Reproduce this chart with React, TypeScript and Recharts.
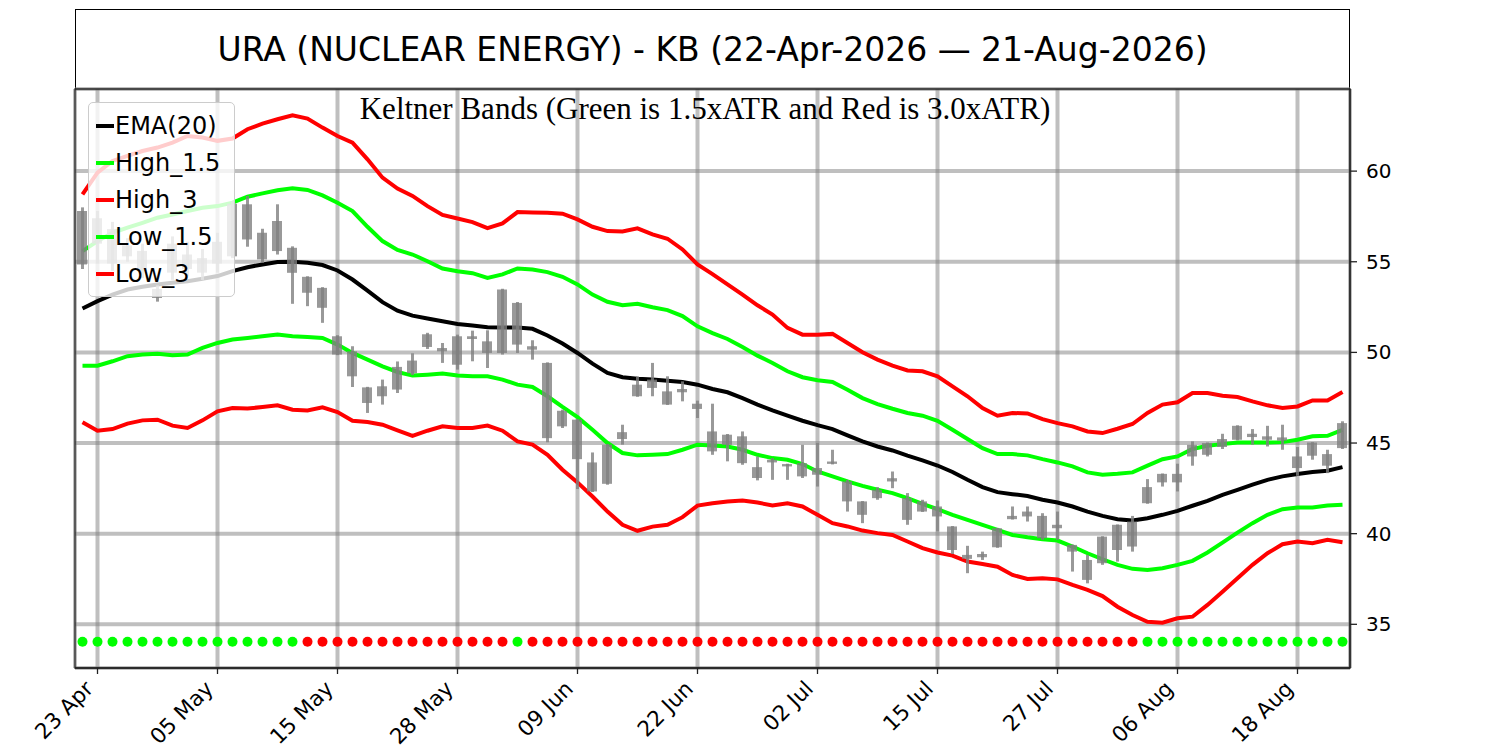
import {
  ComposedChart,
  Line,
  Bar,
  Scatter,
  XAxis,
  YAxis,
  CartesianGrid,
  Legend,
  ReferenceArea,
} from 'recharts';

// trading days, 22 Apr 2026 .. 21 Aug 2026
const DATES = [
  '22 Apr', '23 Apr', '24 Apr', '27 Apr', '28 Apr', '29 Apr', '30 Apr',
  '01 May', '04 May', '05 May', '06 May', '07 May', '08 May', '11 May', '12 May', '13 May', '14 May',
  '15 May', '18 May', '19 May', '20 May', '21 May', '22 May', '26 May', '27 May', '28 May', '29 May',
  '01 Jun', '02 Jun', '03 Jun', '04 Jun', '05 Jun', '08 Jun', '09 Jun', '10 Jun', '11 Jun', '12 Jun',
  '15 Jun', '16 Jun', '17 Jun', '18 Jun', '22 Jun', '23 Jun', '24 Jun', '25 Jun', '26 Jun', '29 Jun', '30 Jun',
  '01 Jul', '02 Jul', '06 Jul', '07 Jul', '08 Jul', '09 Jul', '10 Jul', '13 Jul', '14 Jul', '15 Jul',
  '16 Jul', '17 Jul', '20 Jul', '21 Jul', '22 Jul', '23 Jul', '24 Jul', '27 Jul', '28 Jul', '29 Jul', '30 Jul', '31 Jul',
  '03 Aug', '04 Aug', '05 Aug', '06 Aug', '07 Aug', '10 Aug', '11 Aug', '12 Aug', '13 Aug', '14 Aug',
  '17 Aug', '18 Aug', '19 Aug', '20 Aug', '21 Aug',
];

const OPEN = [
  57.8, 56.0, 56.8, 55.3, 55.6, 53.5, 54.4, 55.4, 54.4, 54.9,
  55.3, 58.17, 56.6, 55.59, 55.77, 54.17, 53.56, 50.89, 50.06, 48.07,
  47.58, 47.95, 48.85, 50.3, 50.24, 49.32, 50.89, 50.61, 49.97, 52.73,
  50.34, 49.42, 45.92, 46.29, 43.93, 42.75, 45.22, 47.58, 48.5, 47.85,
  47.98, 47.17, 45.64, 44.9, 45.37, 43.67, 43.93, 43.84, 43.16, 43.62,
  43.98, 42.88, 41.78, 41.96, 42.88, 41.96, 41.22, 41.5, 40.4, 38.83,
  38.7, 39.25, 40.98, 40.95, 40.98, 40.49, 39.38, 38.55, 38.37, 39.1,
  39.29, 41.68, 42.83, 43.3, 44.26, 44.35, 44.78, 45.18, 45.51, 45.18,
  45.31, 44.26, 44.3, 44.39, 44.72,
];
const HIGH = [
  58.0, 57.8, 57.2, 56.3, 56.0, 53.7, 56.4, 56.1, 55.7, 56.6,
  58.35, 58.63, 56.82, 58.17, 55.85, 54.2, 53.6, 50.95, 50.34, 48.1,
  48.5, 49.5, 49.95, 51.08, 50.52, 50.98, 51.2, 51.22, 53.51, 52.78,
  50.67, 49.45, 46.84, 46.32, 44.48, 44.95, 46.01, 48.68, 49.42, 48.68,
  48.4, 47.34, 47.17, 45.5, 45.64, 44.26, 44.17, 43.86, 44.9, 45.0,
  44.63, 42.97, 41.8, 42.57, 43.43, 42.24, 41.87, 41.83, 40.42, 39.33,
  39.01, 40.32, 41.5, 41.5, 41.13, 41.22, 39.4, 38.83, 39.86, 40.51,
  40.98, 43.01, 43.32, 43.86, 45.09, 45.03, 45.51, 45.98, 45.77, 45.95,
  46.01, 44.78, 45.05, 44.63, 46.2,
];
const LOW = [
  54.6, 54.9, 54.5, 55.0, 54.1, 52.8, 54.0, 54.2, 54.0, 54.4,
  55.2, 55.83, 54.94, 55.4, 52.68, 52.55, 51.63, 49.85, 48.09, 46.66,
  47.12, 47.76, 48.75, 50.19, 49.42, 49.05, 49.51, 49.14, 49.88, 49.97,
  49.6, 45.04, 45.83, 42.46, 42.3, 42.7, 44.91, 47.55, 47.58, 47.1,
  47.3, 46.38, 44.35, 43.99, 43.8, 42.94, 42.97, 42.97, 43.07, 42.6,
  43.82, 41.22, 40.58, 41.87, 42.51, 40.49, 41.2, 40.12, 38.88, 37.82,
  38.55, 39.22, 40.78, 40.67, 39.66, 39.66, 37.91, 37.26, 38.28, 38.46,
  39.01, 41.65, 42.6, 42.33, 43.75, 44.26, 44.67, 45.15, 44.91, 44.81,
  44.63, 43.19, 44.08, 43.34, 44.67,
];
const CLOSE = [
  54.85, 57.4, 54.9, 55.9, 54.5, 53.0, 56.0, 54.6, 55.2, 56.1,
  58.2, 56.23, 55.13, 57.25, 54.39, 53.29, 52.46, 49.88, 48.68, 47.21,
  48.13, 49.2, 49.55, 51.0, 50.06, 50.89, 50.74, 49.97, 53.47, 50.43,
  50.15, 45.27, 46.78, 44.11, 42.33, 44.91, 45.6, 48.22, 48.04, 47.12,
  47.8, 46.88, 44.54, 45.46, 43.89, 43.07, 44.08, 43.71, 43.89, 43.25,
  43.85, 41.78, 41.04, 42.42, 43.06, 40.76, 41.78, 40.95, 39.1, 38.61,
  38.88, 40.3, 40.8, 41.22, 39.75, 40.3, 39.01, 37.45, 39.84, 40.49,
  40.67, 42.57, 43.3, 42.83, 44.9, 45.0, 45.22, 45.95, 45.33, 45.37,
  45.13, 43.62, 45.03, 43.75, 46.1,
];

const EMA20 = [
  52.42, 52.83, 53.19, 53.47, 53.62, 53.75, 53.84, 53.93, 54.06, 54.21,
  54.48, 54.7, 54.85, 54.98, 55.0, 54.94, 54.82, 54.52, 54.02, 53.41,
  52.77, 52.3, 52.03, 51.87, 51.72, 51.57, 51.48, 51.39, 51.37, 51.37,
  51.3, 50.93, 50.49, 49.97, 49.38, 48.87, 48.63, 48.55, 48.5, 48.44,
  48.37, 48.22, 47.98, 47.8, 47.48, 47.12, 46.8, 46.51, 46.23, 45.99,
  45.77, 45.42, 45.09, 44.81, 44.59, 44.3, 44.04, 43.76, 43.4, 42.97,
  42.57, 42.29, 42.18, 42.08, 41.87, 41.72, 41.5, 41.22, 40.98, 40.8,
  40.73, 40.85, 41.04, 41.26, 41.54, 41.81, 42.14, 42.42, 42.7, 42.97,
  43.16, 43.29, 43.4, 43.47, 43.67,
];
const HIGH_15 = [
  55.59, 56.14, 56.6, 56.88, 57.15, 57.43, 57.61, 57.8, 57.98, 58.07,
  58.26, 58.59, 58.77, 58.94, 59.05, 58.96, 58.66, 58.26, 57.8, 56.93,
  56.14, 55.65, 55.4, 55.03, 54.63, 54.48, 54.37, 54.11, 54.3, 54.63,
  54.57, 54.43, 54.17, 53.75, 53.19, 52.79, 52.6, 52.68, 52.49, 52.33,
  52.0, 51.44, 51.06, 50.74, 50.3, 49.82, 49.42, 48.96, 48.63, 48.46,
  48.37, 47.94, 47.48, 47.15, 46.89, 46.66, 46.51, 46.23, 45.73, 45.22,
  44.72, 44.39, 44.39, 44.32, 44.11, 43.93, 43.71, 43.38, 43.25, 43.3,
  43.38, 43.75, 44.11, 44.26, 44.67, 44.85, 44.94, 45.03, 45.03, 45.03,
  45.05, 45.18, 45.37, 45.4, 45.73,
];
const HIGH_3 = [
  58.72, 59.92, 60.56, 60.84, 61.11, 61.3, 61.57, 61.94, 61.85, 61.67,
  61.8, 62.31, 62.62, 62.86, 63.08, 62.9, 62.4, 61.94, 61.57, 60.65,
  59.64, 59.04, 58.63, 58.07, 57.58, 57.39, 57.19, 56.86, 57.12, 57.74,
  57.72, 57.7, 57.65, 57.34, 56.93, 56.69, 56.67, 56.84, 56.51, 56.27,
  55.68, 54.85, 54.32, 53.75, 53.19, 52.6, 52.09, 51.35, 50.98, 50.97,
  51.02, 50.52, 50.01, 49.6, 49.27, 49.0, 48.96, 48.68, 48.13, 47.58,
  46.93, 46.51, 46.66, 46.63, 46.32, 46.1, 45.92, 45.64, 45.55, 45.79,
  46.05, 46.66, 47.12, 47.25, 47.76, 47.76, 47.61, 47.54, 47.3, 47.08,
  46.93, 47.02, 47.35, 47.35, 47.82,
];
const LOW_15 = [
  49.27, 49.27, 49.51, 49.79, 49.88, 49.92, 49.84, 49.88, 50.25, 50.52,
  50.71, 50.8, 50.89, 50.98, 50.89, 50.85, 50.8, 50.43, 49.97, 49.6,
  49.23, 48.92, 48.72, 48.77, 48.83, 48.72, 48.68, 48.68, 48.5, 48.22,
  48.09, 47.58, 46.99, 46.43, 45.73, 45.0, 44.45, 44.32, 44.35, 44.39,
  44.63, 44.91, 44.87, 44.81, 44.63, 44.35, 44.17, 44.08, 43.84, 43.43,
  43.16, 42.88, 42.64, 42.42, 42.24, 41.96, 41.65, 41.35, 41.04, 40.76,
  40.49, 40.21, 39.93, 39.8, 39.69, 39.62, 39.29, 38.92, 38.59, 38.28,
  38.06, 38.0, 38.09, 38.28, 38.5, 38.96, 39.51, 40.06, 40.58, 41.04,
  41.35, 41.44, 41.44, 41.55, 41.59,
];
const LOW_3 = [
  46.14, 45.68, 45.77, 46.07, 46.25, 46.29, 45.96, 45.83, 46.25, 46.75,
  46.93, 46.9, 46.99, 47.08, 46.84, 46.8, 46.97, 46.71, 46.23, 46.16,
  46.01, 45.7, 45.4, 45.68, 45.92, 45.83, 45.83, 45.96, 45.68, 45.09,
  44.91, 44.35, 43.53, 42.83, 42.05, 41.22, 40.49, 40.16, 40.39, 40.49,
  40.91, 41.55, 41.68, 41.78, 41.83, 41.72, 41.55, 41.68, 41.5, 41.04,
  40.58, 40.4, 40.17, 40.03, 39.93, 39.57, 39.2, 38.96, 38.79, 38.46,
  38.33, 38.18, 37.72, 37.5, 37.54, 37.48, 37.17, 36.9, 36.56, 35.97,
  35.51, 35.14, 35.09, 35.33, 35.42, 36.07, 36.8, 37.54, 38.28, 38.92,
  39.42, 39.57, 39.47, 39.66, 39.53,
];

// squeeze signal per day: g = green dot, r = red dot
const SIGNAL = [
  'g', 'g', 'g', 'g', 'g', 'g', 'g', 'g', 'g', 'g', 'g', 'g', 'g', 'g', 'g',
  'r', 'r', 'r', 'r', 'r', 'r', 'r', 'r', 'r', 'r', 'r', 'r', 'r', 'r',
  'g',
  'r', 'r', 'r', 'r', 'r', 'r', 'r', 'r', 'r', 'r', 'r', 'r', 'r', 'r', 'r', 'r', 'r', 'r', 'r', 'r',
  'r', 'r', 'r', 'r', 'r', 'r', 'r', 'r', 'r', 'r', 'r', 'r', 'r', 'r', 'r', 'r', 'r', 'r', 'r', 'r', 'r',
  'g', 'g', 'g', 'g', 'g', 'g', 'g', 'g', 'g', 'g', 'g', 'g', 'g', 'g',
];
const DOT_LEVEL = 34.04;

const X_TICKS = [1, 9, 17, 25, 33, 41, 49, 57, 65, 73, 81];
const Y_TICKS = [35, 40, 45, 50, 55, 60];
const Y_DOMAIN = [32.59, 64.53];
const X_DOMAIN = [-0.5, 84.5];

const data = DATES.map((date, i) => ({
  i,
  date,
  ema: EMA20[i],
  h15: HIGH_15[i],
  h3: HIGH_3[i],
  l15: LOW_15[i],
  l3: LOW_3[i],
  wick: [LOW[i], HIGH[i]],
  body: [Math.min(OPEN[i], CLOSE[i]), Math.max(OPEN[i], CLOSE[i])],
  dot: DOT_LEVEL,
  sig: SIGNAL[i],
}));

const FONT = '"DejaVu Sans", sans-serif';
const CANDLE = '#808080';

function DateTick(props: any) {
  const { x, y, payload } = props;
  const ax = x - 3;
  const ay = y + 14;
  return (
    <text
      x={ax}
      y={ay}
      transform={`rotate(-45 ${ax} ${ay})`}
      textAnchor="end"
      fontFamily={FONT}
      fontSize={21.5}
      fill="#000"
    >
      {DATES[payload.value]}
    </text>
  );
}

function SignalDot(props: any) {
  const { cx, cy, payload } = props;
  return <circle cx={cx} cy={cy} r={5} fill={payload.sig === 'g' ? '#00ff00' : '#ff0000'} />;
}

function LegendBox(props: any) {
  const items = (props.payload || []).filter((p: any) => p.type !== 'none');
  return (
    <div
      style={{
        background: 'rgba(255,255,255,0.8)',
        border: '1.3px solid #cccccc',
        borderRadius: 5,
        padding: '4px 14px 4px 7px',
        fontFamily: FONT,
        fontSize: 24,
        color: '#000',
      }}
    >
      {items.map((it: any) => (
        <div key={it.value} style={{ display: 'flex', alignItems: 'center', height: 37 }}>
          <span style={{ width: 18, height: 4, background: it.color, display: 'inline-block' }} />
          <span style={{ marginLeft: 1 }}>{it.value}</span>
        </div>
      ))}
    </div>
  );
}

export default function App() {
  return (
    <div style={{ position: 'absolute', left: 0, top: 0, width: 1500, height: 750, background: '#fff' }}>
      <div
        style={{
          position: 'absolute',
          left: 75,
          top: 9,
          width: 1275,
          height: 80,
          boxSizing: 'border-box',
          borderTop: '1.3px solid #000',
          borderLeft: '1.3px solid #000',
          borderRight: '1.3px solid #000',
          fontFamily: FONT,
          fontSize: 33,
          textAlign: 'center',
          lineHeight: '80px',
          color: '#000',
        }}
      >
        URA (NUCLEAR ENERGY) - KB (22-Apr-2026 — 21-Aug-2026)
      </div>
      <div
        style={{
          position: 'absolute',
          left: 305,
          top: 93,
          width: 800,
          textAlign: 'center',
          fontFamily: '"Liberation Serif", serif',
          fontSize: 31,
          lineHeight: '31px',
          color: '#000',
          zIndex: 2,
        }}
      >
        Keltner Bands (Green is 1.5xATR and Red is 3.0xATR)
      </div>
      <ComposedChart
        width={1500}
        height={750}
        data={data}
        margin={{ top: 89, right: 90, bottom: 22, left: 75 }}
      >
        <CartesianGrid stroke="#808080" strokeOpacity={0.5} strokeWidth={4} />
        <XAxis
          dataKey="i"
          type="number"
          domain={X_DOMAIN}
          ticks={X_TICKS}
          interval={0}
          allowDataOverflow
          height={60}
          tick={<DateTick />}
          tickSize={6}
          tickLine={{ stroke: '#222', strokeWidth: 1.3 }}
          axisLine={{ stroke: '#222', strokeWidth: 1.3 }}
        />
        <XAxis xAxisId="w" dataKey="i" type="number" domain={X_DOMAIN} allowDataOverflow hide />
        <YAxis
          orientation="right"
          domain={Y_DOMAIN}
          ticks={Y_TICKS}
          allowDataOverflow
          width={60}
          tickSize={7}
          tickMargin={9}
          tick={{ fill: '#000', fontSize: 20, fontFamily: FONT }}
          tickLine={{ stroke: '#222', strokeWidth: 1.3 }}
          axisLine={{ stroke: '#222', strokeWidth: 1.3 }}
        />
        <Line name="EMA(20)" dataKey="ema" type="linear" stroke="#000000" strokeWidth={4} dot={false} isAnimationActive={false} />
        <Line name="High_1.5" dataKey="h15" type="linear" stroke="#00ff00" strokeWidth={4} dot={false} isAnimationActive={false} />
        <Line name="High_3" dataKey="h3" type="linear" stroke="#ff0000" strokeWidth={4} dot={false} isAnimationActive={false} />
        <Line name="Low_1.5" dataKey="l15" type="linear" stroke="#00ff00" strokeWidth={4} dot={false} isAnimationActive={false} />
        <Line name="Low_3" dataKey="l3" type="linear" stroke="#ff0000" strokeWidth={4} dot={false} isAnimationActive={false} />
        <Bar xAxisId="w" dataKey="wick" barSize={3} fill={CANDLE} fillOpacity={0.8} legendType="none" isAnimationActive={false} zIndex={450} />
        <Bar dataKey="body" barSize={10} fill={CANDLE} fillOpacity={0.8} legendType="none" isAnimationActive={false} zIndex={450} />
        <Scatter dataKey="dot" shape={<SignalDot />} legendType="none" isAnimationActive={false} />
        <ReferenceArea x1={X_DOMAIN[0]} x2={X_DOMAIN[1]} y1={Y_DOMAIN[0]} y2={Y_DOMAIN[1]} fill="none" stroke="#222" strokeWidth={1.3} />
        <Legend
          content={<LegendBox />}
          layout="horizontal"
          verticalAlign="middle"
          align="center"
          wrapperStyle={{ position: 'absolute', left: 88, top: 102, width: 'auto', height: 'auto' }}
        />
      </ComposedChart>
    </div>
  );
}
